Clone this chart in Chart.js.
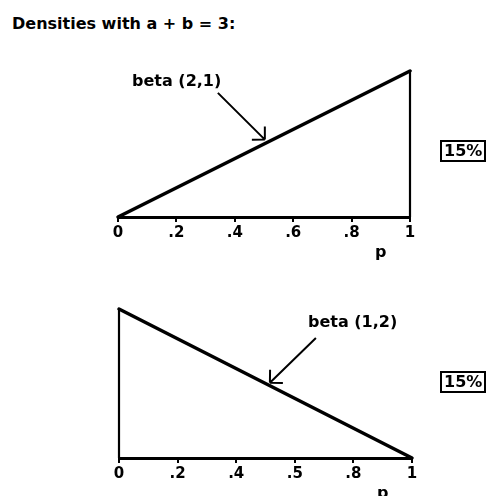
<!DOCTYPE html>
<html>
<head>
<meta charset="utf-8">
<script src="https://cdn.jsdelivr.net/npm/chart.js@4/dist/chart.umd.min.js"></script>
<style>
  html, body { margin: 0; padding: 0; background: #fff; }
  body { width: 487px; height: 496px; position: relative; overflow: hidden; font-family: "DejaVu Sans", sans-serif; }
  #title { position: absolute; left: 12px; top: 14px; font: bold 16px "DejaVu Sans", sans-serif; color: #000; white-space: nowrap; }
  .panel { position: absolute; left: 0; width: 487px; }
  .pct { position: absolute; font: bold 16px "DejaVu Sans", sans-serif; color: #000; border: 2px solid #000; padding: 0 2px; line-height: 18px; }
</style>
</head>
<body>
<div id="title">Densities with a + b = 3:</div>
<div class="panel" style="top:40px;height:225px"><canvas id="upper"></canvas></div>
<div class="panel" style="top:270px;height:226px"><canvas id="lower"></canvas></div>
<div class="pct" style="left:440px;top:140px">15%</div>
<div class="pct" style="left:440px;top:371px">15%</div>
<script>
// Beta densities on p in [0, 1] with a + b = 3
const pEnds = [0, 1];
const betaTwoOne = [0, 2];   // f(p) = 2p
const betaOneTwo = [2, 0];   // f(p) = 2(1 - p)
const pTicks = [0, 0.2, 0.4, 0.6, 0.8, 1];
const upperTickLabels = ['0', '.2', '.4', '.6', '.8', '1'];
const lowerTickLabels = ['0', '.2', '.4', '.5', '.8', '1'];

const FONT = '"DejaVu Sans", sans-serif';

// draws the pointer label, its arrow and the axis name "p"
const notes = {
  id: 'notes',
  afterDraw(chart, args, o) {
    const { ctx, scales: { x, y } } = chart;
    ctx.save();
    ctx.fillStyle = '#000';
    ctx.strokeStyle = '#000';
    ctx.font = 'bold 16px ' + FONT;
    ctx.textBaseline = 'middle';
    ctx.textAlign = 'left';
    ctx.fillText(o.text, x.getPixelForValue(o.textAt[0]), y.getPixelForValue(o.textAt[1]));
    const x0 = x.getPixelForValue(o.from[0]), y0 = y.getPixelForValue(o.from[1]);
    const x1 = x.getPixelForValue(o.to[0]), y1 = y.getPixelForValue(o.to[1]);
    ctx.lineWidth = 2;
    ctx.beginPath();
    ctx.moveTo(x0, y0);
    ctx.lineTo(x1, y1);
    const ang = Math.atan2(y0 - y1, x0 - x1);
    const L = 13;
    for (const d of [-Math.PI / 4, Math.PI / 4]) {
      ctx.moveTo(x1, y1);
      ctx.lineTo(x1 + L * Math.cos(ang + d), y1 + L * Math.sin(ang + d));
    }
    ctx.stroke();
    // axis name
    ctx.textAlign = 'center';
    ctx.fillText('p', x.getPixelForValue(0.9), x.top + 36);
    ctx.restore();
  }
};

function makeChart(id, slope, wall, tickLabels, pad, axisHeight, note) {
  return new Chart(document.getElementById(id), {
    type: 'scatter',
    data: {
      datasets: [
        {
          data: pEnds.map((p, i) => ({ x: p, y: slope[i] })),
          showLine: true, borderColor: '#000', borderWidth: 3.5,
          pointRadius: 0, clip: false, borderCapStyle: 'round'
        },
        {
          data: wall.map(v => ({ x: v.x, y: v.y })),
          showLine: true, borderColor: '#000', borderWidth: 2.2,
          pointRadius: 0, clip: false
        }
      ]
    },
    options: {
      responsive: true,
      maintainAspectRatio: false,
      animation: false,
      events: [],
      layout: { padding: pad },
      plugins: { legend: { display: false }, tooltip: { enabled: false }, notes: note },
      scales: {
        x: {
          type: 'linear', min: 0, max: 1,
          afterBuildTicks: s => { s.ticks = pTicks.map(v => ({ value: v })); },
          afterFit: s => { s.paddingLeft = 0; s.paddingRight = 0; s.height = axisHeight; },
          border: { display: true, color: '#000', width: 3 },
          grid: { drawOnChartArea: false, drawTicks: true, tickLength: 5, color: '#000', lineWidth: 2 },
          ticks: {
            color: '#000', padding: 2, maxRotation: 0, autoSkip: false,
            font: { family: FONT, size: 15, weight: 'bold' },
            callback: (v, i) => tickLabels[i]
          }
        },
        y: { display: false, min: 0, max: 2 }
      }
    },
    plugins: [notes]
  });
}

makeChart('upper', betaTwoOne,
  [{ x: 1, y: 0 }, { x: 1, y: 2 }],
  upperTickLabels,
  { left: 118, right: 77, top: 31, bottom: 0 }, 48,
  { text: 'beta (2,1)', textAt: [0.048, 1.85], from: [0.342, 1.70], to: [0.503, 1.06] });

makeChart('lower', betaOneTwo,
  [{ x: 0, y: 0 }, { x: 0, y: 2 }],
  lowerTickLabels,
  { left: 119, right: 75, top: 39, bottom: 0 }, 38,
  { text: 'beta (1,2)', textAt: [0.645, 1.81], from: [0.672, 1.61], to: [0.515, 1.01] });
</script>
</body>
</html>
